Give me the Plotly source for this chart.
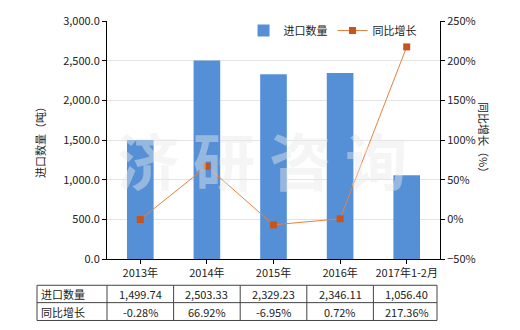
import plotly.graph_objects as go

categories = ["2013年", "2014年", "2015年", "2016年", "2017年1-2月"]
import_qty = [1499.74, 2503.33, 2329.23, 2346.11, 1056.40]
yoy_growth = [-0.28, 66.92, -6.95, 0.72, 217.36]
qty_labels = ["1,499.74", "2,503.33", "2,329.23", "2,346.11", "1,056.40"]
yoy_labels = ["-0.28%", "66.92%", "-6.95%", "0.72%", "217.36%"]
row_names = ["进口数量", "同比增长"]

FONT = "Noto Sans CJK SC"
W, H = 520, 330
ML, MR, MT, MB = 107, 80, 19, 71

fig = go.Figure()
fig.add_trace(go.Bar(x=categories, y=import_qty, name="进口数量",
                     marker=dict(color="#5590D6", line=dict(width=0)),
                     width=0.4, yaxis="y"))
fig.add_trace(go.Scatter(x=categories, y=yoy_growth, name="同比增长", yaxis="y2",
                         mode="lines+markers",
                         line=dict(color="#E8803F", width=1),
                         marker=dict(symbol="square", size=7, color="#C9541A")))

fig.update_layout(
    width=W, height=H,
    margin=dict(l=ML, r=MR, t=MT, b=MB, pad=0),
    paper_bgcolor="white", plot_bgcolor="white",
    font=dict(family=FONT, size=11, color="#222"),
    bargap=0.6,
    showlegend=True,
    legend=dict(orientation="h", x=0.41, y=0.96, xanchor="left", yanchor="middle",
                bgcolor="rgba(0,0,0,0)", font=dict(size=11, color="#222"),
                itemwidth=30, tracegroupgap=0),
    xaxis=dict(showline=True, linecolor="black", linewidth=1, ticks="outside",
               ticklen=4, tickcolor="black", showgrid=False,
               tickfont=dict(size=11, color="#222")),
    yaxis=dict(range=[0, 3000], dtick=500, tickformat=",.1f", showline=True,
               linecolor="black", linewidth=1, ticks="outside", ticklen=4,
               tickcolor="black", showgrid=True, gridcolor="#E3E3E3",
               zeroline=False, tickfont=dict(size=11, color="#222")),
    yaxis2=dict(range=[-50, 250], dtick=50, ticksuffix="%", overlaying="y",
                side="right", showline=True, linecolor="black", linewidth=1,
                ticks="outside", ticklen=4, tickcolor="black", showgrid=False,
                zeroline=False, tickfont=dict(size=11, color="#222")),
)

pw = W - ML - MR
ph = H - MT - MB
def px_x(x):
    return (x - ML) / pw
def px_y(y):
    return 1 - (y - MT) / ph

# axis titles
fig.add_annotation(text="进口数量（吨）", xref="paper", yref="paper",
                   x=px_x(30), y=0.5, textangle=-90,
                   showarrow=False, font=dict(size=11, color="#222"))
fig.add_annotation(text="同比增长（%）", xref="paper", yref="paper",
                   x=px_x(494), y=0.5, textangle=90,
                   showarrow=False, font=dict(size=11, color="#222"))

# watermark
fig.add_annotation(text="<b>济 研 咨 询</b>", xref="paper", yref="paper",
                   x=px_x(262), y=px_y(158),
                   showarrow=False,
                   font=dict(size=62, color="rgba(232,232,232,0.45)", family=FONT))

# table
tbl_left, tbl_right = 37, 437
row_y = [285.5, 303, 321]
for y in row_y:
    fig.add_shape(type="line", xref="paper", yref="paper",
                  x0=px_x(tbl_left), x1=px_x(tbl_right), y0=px_y(y), y1=px_y(y),
                  line=dict(color="#444", width=1))
col_x = [tbl_left, 107, 173.6, 240.2, 306.8, 373.4, tbl_right]
for x in col_x:
    fig.add_shape(type="line", xref="paper", yref="paper",
                  x0=px_x(x), x1=px_x(x), y0=px_y(row_y[0]), y1=px_y(row_y[2]),
                  line=dict(color="#444", width=1))

for r, (name, labels) in enumerate(zip(row_names, [qty_labels, yoy_labels])):
    yc = px_y((row_y[r] + row_y[r + 1]) / 2)
    fig.add_annotation(text=name, xref="paper", yref="paper", x=px_x(39), y=yc,
                       xanchor="left", yanchor="middle", showarrow=False,
                       font=dict(size=11, color="#222"))
    for c, lab in zip(categories, labels):
        fig.add_annotation(text=lab, xref="x", yref="paper", x=c, y=yc,
                           xanchor="center", yanchor="middle", showarrow=False,
                           font=dict(size=11, color="#222"))

fig.write_html("out.html")
